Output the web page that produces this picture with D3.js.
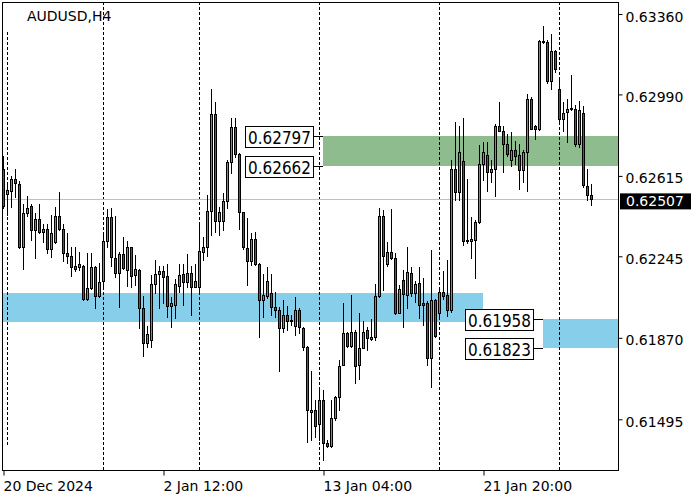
<!DOCTYPE html>
<html>
<head>
<meta charset="utf-8">
<script src="https://cdn.jsdelivr.net/npm/d3@7"></script>
<style>
  html, body { margin: 0; padding: 0; background: #ffffff; }
  svg { display: block; font-family: "DejaVu Sans", sans-serif; }
</style>
</head>
<body>
<script>
// ---------------- DATA ----------------
const symbolTitle = "AUDUSD,H4";

const opens = [
  0.62649,0.62533,0.62547,0.62603,0.62580,0.62289,0.62442,0.62476,0.62366,0.62415,
  0.62355,0.62369,0.62280,0.62309,0.62430,0.62372,0.62258,0.62247,0.62200,0.62197,
  0.62200,0.62048,0.62097,0.62197,0.62063,0.62131,0.62315,0.62424,0.62235,0.62166,
  0.62255,0.62182,0.62286,0.62159,0.62182,0.62005,0.61844,0.61859,0.62116,0.62162,
  0.62177,0.62154,0.62017,0.62023,0.62109,0.62162,0.62128,0.62166,0.62105,0.62105,
  0.62263,0.62286,0.62453,0.62898,0.62409,0.62409,0.62499,0.62677,0.62838,0.62718,
  0.62447,0.62282,0.62224,0.62323,0.62208,0.62043,0.62063,0.62074,0.62010,0.61997,
  0.61913,0.61974,0.61948,0.61924,0.61997,0.61913,0.61829,0.61529,0.61540,0.61473,
  0.61586,0.61387,0.61372,0.61499,0.61599,0.61747,0.61890,0.61833,0.61898,0.61747,
  0.61824,0.61908,0.61864,0.61872,0.62062,0.62430,0.62208,0.62263,0.62235,0.61985,
  0.62135,0.62066,0.62166,0.62077,0.62120,0.62028,0.62028,0.61775,0.62043,0.61982,
  0.62082,0.62066,0.61997,0.62649,0.62542,0.62683,0.62320,0.62317,0.62320,0.62401,
  0.62672,0.62711,0.62631,0.62645,0.62844,0.62823,0.62764,0.62688,0.62732,0.62711,
  0.62642,0.62723,0.62971,0.62844,0.62829,0.63229,0.63229,0.63051,0.63189,0.63017,
  0.62875,0.62907,0.62922,0.62925,0.62764,0.62906,0.62568,0.62527
];
const highs = [
  0.62706,0.62583,0.62614,0.62649,0.62591,0.62485,0.62522,0.62485,0.62442,0.62485,
  0.62393,0.62393,0.62435,0.62473,0.62540,0.62393,0.62350,0.62289,0.62289,0.62263,
  0.62205,0.62258,0.62258,0.62200,0.62212,0.62350,0.62461,0.62466,0.62430,0.62263,
  0.62332,0.62315,0.62289,0.62251,0.62185,0.62062,0.61924,0.62159,0.62227,0.62200,
  0.62200,0.62208,0.62059,0.62140,0.62208,0.62208,0.62255,0.62200,0.62208,0.62396,
  0.62332,0.62527,0.63017,0.62956,0.62473,0.62537,0.62688,0.62880,0.62880,0.62720,
  0.62450,0.62419,0.62350,0.62358,0.62212,0.62163,0.62197,0.62163,0.62082,0.62012,
  0.62043,0.62017,0.61974,0.62059,0.62005,0.61918,0.61832,0.61718,0.61583,0.61632,
  0.61632,0.61402,0.61583,0.61602,0.61767,0.62028,0.61898,0.62069,0.61905,0.61986,
  0.61947,0.61921,0.61956,0.62116,0.62466,0.62458,0.62309,0.62462,0.62258,0.62113,
  0.62182,0.62286,0.62197,0.62132,0.62197,0.62143,0.62040,0.62274,0.62048,0.62097,
  0.62178,0.62227,0.62688,0.62864,0.62844,0.62883,0.62600,0.62427,0.62412,0.62757,
  0.62772,0.62772,0.62688,0.62856,0.62956,0.62844,0.62806,0.62815,0.62777,0.62764,
  0.62734,0.62994,0.62979,0.62849,0.63240,0.63304,0.63240,0.63268,0.63194,0.63056,
  0.62956,0.62971,0.63079,0.62941,0.62961,0.62936,0.62646,0.62580
];
const lows = [
  0.62466,0.62435,0.62473,0.62519,0.62282,0.62185,0.62430,0.62320,0.62238,0.62352,
  0.62312,0.62258,0.62243,0.62304,0.62366,0.62224,0.62212,0.62154,0.62178,0.62182,
  0.62043,0.62043,0.62093,0.62005,0.62059,0.62108,0.62289,0.62201,0.62151,0.62012,
  0.62185,0.62108,0.62102,0.62113,0.61913,0.61787,0.61826,0.61829,0.62074,0.62005,
  0.62028,0.61964,0.61918,0.61959,0.62082,0.62020,0.62105,0.61977,0.62102,0.62077,
  0.62227,0.62246,0.62343,0.62358,0.62343,0.62366,0.62466,0.62629,0.62703,0.62369,
  0.62277,0.62113,0.62205,0.62205,0.61872,0.61967,0.62051,0.61974,0.61967,0.61718,
  0.61898,0.61905,0.61928,0.61882,0.61890,0.61813,0.61392,0.61402,0.61414,0.61399,
  0.61310,0.61368,0.61368,0.61494,0.61540,0.61747,0.61829,0.61829,0.61660,0.61680,
  0.61821,0.61813,0.61859,0.61862,0.62059,0.62089,0.62201,0.62232,0.61979,0.61982,
  0.61918,0.62005,0.62062,0.62036,0.61959,0.61928,0.61744,0.61642,0.61875,0.61967,
  0.62048,0.61971,0.61990,0.62504,0.62504,0.62297,0.62304,0.62238,0.62143,0.62399,
  0.62596,0.62547,0.62588,0.62524,0.62821,0.62634,0.62706,0.62662,0.62672,0.62553,
  0.62588,0.62547,0.62830,0.62784,0.62826,0.63228,0.63044,0.63017,0.63094,0.62852,
  0.62823,0.62769,0.62918,0.62754,0.62749,0.62562,0.62504,0.62481
];
const closes = [
  0.62476,0.62548,0.62603,0.62583,0.62289,0.62442,0.62466,0.62366,0.62415,0.62355,
  0.62369,0.62280,0.62350,0.62430,0.62372,0.62258,0.62247,0.62197,0.62185,0.62208,
  0.62048,0.62097,0.62197,0.62063,0.62125,0.62315,0.62424,0.62240,0.62166,0.62255,
  0.62192,0.62286,0.62155,0.62185,0.62005,0.61844,0.61887,0.62116,0.62162,0.62177,
  0.62151,0.62017,0.62028,0.62116,0.62159,0.62128,0.62166,0.62105,0.62131,0.62269,
  0.62286,0.62453,0.62902,0.62409,0.62450,0.62499,0.62677,0.62838,0.62715,0.62447,
  0.62289,0.62224,0.62323,0.62208,0.62043,0.62066,0.62131,0.62010,0.61997,0.61913,
  0.61974,0.61948,0.61951,0.61997,0.61918,0.61829,0.61537,0.61540,0.61465,0.61586,
  0.61387,0.61372,0.61499,0.61599,0.61740,0.61890,0.61833,0.61895,0.61741,0.61824,
  0.61895,0.61867,0.61872,0.62062,0.62430,0.62247,0.62263,0.62235,0.61985,0.62093,
  0.62071,0.62171,0.62077,0.62116,0.62023,0.62023,0.61775,0.62043,0.61879,0.62079,
  0.62063,0.61997,0.62649,0.62542,0.62726,0.62315,0.62315,0.62323,0.62401,0.62672,
  0.62723,0.62631,0.62646,0.62844,0.62823,0.62764,0.62718,0.62732,0.62708,0.62642,
  0.62723,0.62971,0.62833,0.62830,0.63235,0.63235,0.63051,0.63189,0.63105,0.62875,
  0.62906,0.62925,0.62929,0.62764,0.62918,0.62573,0.62527,0.62507
];

// price axis
const priceTicks = [0.63360, 0.62990, 0.62615, 0.62245, 0.61870, 0.61495];
const lastPrice = 0.62507;

// time axis (bar index -> label)
const timeTickBars = [0, 40, 80, 120];
const timeTickLabels = ["20 Dec 2024", "2 Jan 12:00", "13 Jan 04:00", "21 Jan 20:00"];
// week separators (bar index of Monday 00:00)
const separatorBars = [1, 25, 49, 79, 109, 139];

// zones: [startBar, endBar(null = right edge), top price, bottom price, colour, show labels]
const zoneStartBars = [80, 0, 135];
const zoneEndBars = [null, 120, null];
const zoneTops = [0.62797, 0.62075, 0.61958];
const zoneBottoms = [0.62662, 0.61945, 0.61823];
const zoneColors = ["#8fbc8f", "#87ceeb", "#87ceeb"];
const zoneLabelled = [true, false, true];

// ---------------- CHART ----------------
const W = 700, H = 500;
const plotL = 2, plotR = 618, plotT = 2, plotB = 470;

const svg = d3.select("body").append("svg").attr("width", W).attr("height", H);

const n = opens.length;
const x = d3.scaleLinear().domain([0, n - 1]).range([3.5, 3.5 + 4 * (n - 1)]);
const y = d3.scaleLinear().domain([0.61495, 0.63360]).range([419.3, 14]);

const clip = svg.append("defs").append("clipPath").attr("id", "plotclip")
  .append("rect").attr("x", plotL + 0.5).attr("y", plotT + 0.5)
  .attr("width", plotR - plotL).attr("height", plotB - plotT);

const plot = svg.append("g").attr("clip-path", "url(#plotclip)");

// zones
zoneStartBars.forEach((s, k) => {
  const x0 = s === 0 ? plotL : x(s) - 0.5;
  const x1 = zoneEndBars[k] === null ? plotR : x(zoneEndBars[k]) - 0.5;
  const yt = Math.round(y(zoneTops[k]));
  const yb = Math.round(y(zoneBottoms[k]));
  plot.append("rect").attr("x", x0).attr("y", yt)
    .attr("width", x1 - x0).attr("height", yb - yt)
    .attr("fill", zoneColors[k]);
});

// week separators
separatorBars.forEach((b, k) => {
  plot.append("line")
    .attr("x1", x(b)).attr("x2", x(b))
    .attr("y1", k === 0 ? 32 : plotT)
    .attr("y2", k === 0 ? 447 : plotB)
    .attr("stroke", "#000").attr("stroke-width", 1)
    .attr("stroke-dasharray", "3,2");
});

// last price line
plot.append("line")
  .attr("x1", plotL).attr("x2", plotR)
  .attr("y1", Math.round(y(lastPrice)) + 0.5).attr("y2", Math.round(y(lastPrice)) + 0.5)
  .attr("stroke", "#c0c0c0").attr("stroke-width", 1);

// candles
const idx = d3.range(n);
const cg = plot.append("g");
cg.selectAll("line.wick").data(idx).join("line")
  .attr("class", "wick")
  .attr("x1", i => x(i)).attr("x2", i => x(i))
  .attr("y1", i => Math.round(y(highs[i])))
  .attr("y2", i => Math.round(y(lows[i])) + 1)
  .attr("stroke", "#000").attr("stroke-width", 1);

cg.selectAll("rect.body").data(idx).join("rect")
  .attr("class", "body")
  .attr("x", i => x(i) - 1)
  .attr("y", i => Math.round(y(Math.max(opens[i], closes[i]))) + 0.5)
  .attr("width", 2)
  .attr("height", i => Math.max(0, Math.round(y(Math.min(opens[i], closes[i]))) - Math.round(y(Math.max(opens[i], closes[i])))))
  .attr("fill", i => closes[i] >= opens[i] ? "#4caf50" : "#e21e1e")
  .attr("stroke", "#000").attr("stroke-width", 1);

// frame
svg.append("rect").attr("x", plotL + 0.5).attr("y", plotT + 0.5)
  .attr("width", plotR - plotL).attr("height", plotB - plotT)
  .attr("fill", "none").attr("stroke", "#000").attr("stroke-width", 1);

// title
svg.append("text").attr("x", 27).attr("y", 21)
  .attr("font-size", 14).attr("fill", "#000").text(symbolTitle);

// right price axis
const yAxis = d3.axisRight(y).tickValues(priceTicks).tickFormat(d3.format(".5f")).tickSize(4).tickPadding(3);
const ya = svg.append("g").attr("transform", `translate(${plotR + 0.5},0)`).call(yAxis);
ya.select(".domain").remove();
ya.selectAll("text").attr("font-size", 14).attr("font-family", "DejaVu Sans").attr("dy", "0.5em").attr("fill", "#000");
ya.selectAll("line").attr("stroke", "#000");

// bottom time axis
const xAxis = d3.axisBottom(x).tickValues(timeTickBars)
  .tickFormat((d, k) => timeTickLabels[k]).tickSize(5).tickPadding(3);
const xa = svg.append("g").attr("transform", `translate(0,${plotB + 0.5})`).call(xAxis);
xa.select(".domain").remove();
xa.selectAll("text").attr("font-size", 14).attr("font-family", "DejaVu Sans")
  .attr("text-anchor", "start").attr("x", -0.5).attr("y", 10.5).attr("fill", "#000");
xa.selectAll("line").attr("stroke", "#000");

// current price badge
const py = y(lastPrice);
svg.append("rect").attr("x", 620).attr("y", py - 6).attr("width", 71).attr("height", 16).attr("fill", "#000");
svg.append("text").attr("x", 626).attr("y", py + 7).attr("font-size", 14)
  .attr("fill", "#fff").text(d3.format(".5f")(lastPrice));

// zone price labels
zoneStartBars.forEach((s, k) => {
  if (!zoneLabelled[k]) return;
  const zx = x(s) - 0.5;
  [zoneTops[k], zoneBottoms[k]].forEach(p => {
    const cy = Math.round(y(p));
    const bx = Math.round(zx - 10 - 68);
    svg.append("line").attr("x1", zx - 10).attr("x2", zx).attr("y1", cy + 0.5).attr("y2", cy + 0.5)
      .attr("stroke", "#000").attr("stroke-width", 1);
    svg.append("rect").attr("x", bx + 0.5).attr("y", cy - 10 + 0.5).attr("width", 68).attr("height", 21)
      .attr("fill", "#fff").attr("stroke", "#000").attr("stroke-width", 1);
    svg.append("text").attr("x", bx + 3).attr("y", cy + 7.5).attr("font-size", 18)
      .attr("textLength", 63).attr("lengthAdjust", "spacingAndGlyphs")
      .attr("fill", "#000").text(d3.format(".5f")(p));
  });
});
</script>
</body>
</html>
